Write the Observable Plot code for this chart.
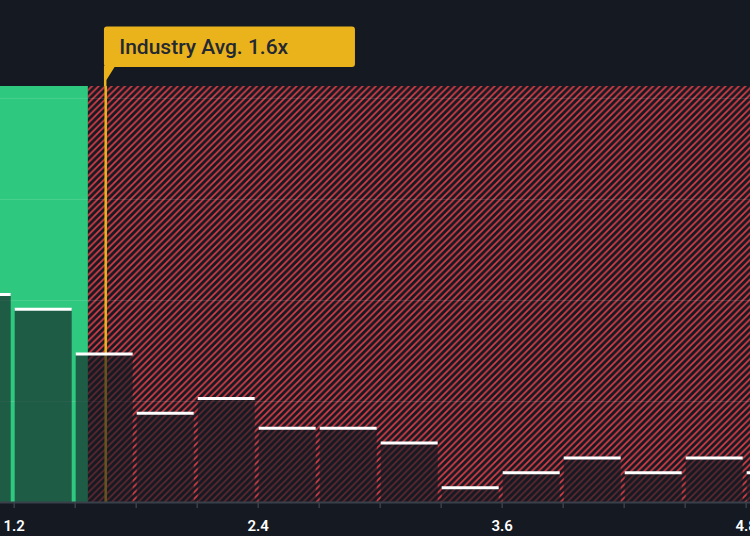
<!DOCTYPE html>
<html><head><meta charset="utf-8">
<script src="https://cdn.jsdelivr.net/npm/d3@7"></script>
<script src="https://cdn.jsdelivr.net/npm/@observablehq/plot@0.6"></script>
<style>
html,body{margin:0;padding:0;background:#151a22;}
#chart{width:750px;height:536px;overflow:hidden;}
svg{display:block;}
</style>
</head><body><div id="chart"></div>
<script>
// Data
const binStarts = [0.9, 1.2, 1.5, 1.8, 2.1, 2.4, 2.7, 3.0, 3.3, 3.6, 3.9, 4.2, 4.5, 4.8];
const binEnds   = [1.2, 1.5, 1.8, 2.1, 2.4, 2.7, 3.0, 3.3, 3.6, 3.9, 4.2, 4.5, 4.8, 5.1];
const counts    = [14, 13, 10, 6, 7, 5, 5, 4, 1, 2, 3, 2, 3, 2];
const tickValues  = [1.2, 1.5, 1.8, 2.1, 2.4, 2.7, 3.0, 3.3, 3.6, 3.9, 4.2, 4.5, 4.8];
const labelValues = [1.2, 2.4, 3.6, 4.8];
const gridValues  = [6.8, 13.6, 20.4, 27.2];
const industryAvg = 1.65;
const industryLabel = "Industry Avg. 1.6x";
const fairRatio = 1.565;
const xDomain = [1.1326, 4.8212];
const yMax = 28;

const bins = binStarts.map((s, i) => ({x1: s, x2: binEnds[i], count: counts[i]}));

const BG = "#151a22", GREEN = "#2ec97e", RED = "#dc3c46", GOLD = "#eab31c", AXIS = "#3a404a";

const chart = Plot.plot({
  width: 750,
  height: 536,
  marginTop: 86,
  marginBottom: 34,
  marginLeft: 0,
  marginRight: 0,
  style: {background: "transparent", fontFamily: "Roboto, sans-serif", overflow: "visible"},
  x: {domain: xDomain, axis: null},
  y: {domain: [0, yMax], axis: null},
  marks: [
    Plot.rect([0], {x1: xDomain[0], x2: fairRatio, y1: 0, y2: yMax, fill: GREEN}),
    Plot.rect([0], {x1: fairRatio, x2: xDomain[1], y1: 0, y2: yMax, fill: "url(#hatch)"}),
    Plot.ruleY(gridValues, {stroke: "#ffffff", strokeOpacity: 0.13, strokeWidth: 1}),
    Plot.ruleX([industryAvg], {y1: 0, y2: yMax, stroke: GOLD, strokeWidth: 2.5}),
    Plot.rectY(bins, {x1: "x1", x2: "x2", y: "count", fill: BG, fillOpacity: 0.62, insetLeft: 1, insetRight: 3, clip: true}),
    Plot.ruleY(bins, {x1: "x1", x2: "x2", y: "count", stroke: "#ffffff", strokeWidth: 3, insetLeft: 1, insetRight: 3, clip: true}),
    Plot.ruleY([0], {stroke: AXIS, strokeWidth: 2}),
    Plot.axisX(tickValues, {tickSize: 6, tickFormat: () => "", stroke: AXIS, strokeWidth: 1.5}),
    Plot.text(labelValues, {x: d => d, y: 0, dy: 24, text: d => d.toFixed(1), fill: "#ffffff", fontSize: 15, fontWeight: 600, lineAnchor: "middle"})
  ]
});

const svg = d3.select(chart);
svg.insert("defs", ":first-child").html(
  `<pattern id="hatch" patternUnits="userSpaceOnUse" width="6.6" height="6.6">
     <rect width="6.6" height="6.6" fill="${BG}"/>
     <path d="M-1.65,1.65 L1.65,-1.65 M0,6.6 L6.6,0 M4.95,8.25 L8.25,4.95" stroke="${RED}" stroke-width="1.7"/>
   </pattern>`
);

// Industry average label box, positioned from the x scale
const xs = chart.scale("x");
const lx = xs.apply(industryAvg);
const frameTop = 86;
const g = svg.append("g");
g.append("path")
  .attr("d", `M${lx - 1.25},66 L${lx + 10},66 L${lx + 1.25},80 L${lx + 1.25},${frameTop} L${lx - 1.25},${frameTop} Z`)
  .attr("fill", GOLD);
g.append("rect")
  .attr("x", lx - 1.25).attr("y", 26.5)
  .attr("width", 251).attr("height", 40.5)
  .attr("rx", 3).attr("fill", GOLD);
g.append("text")
  .attr("x", lx + 14).attr("y", 53.5)
  .attr("text-anchor", "start")
  .attr("fill", "#232833")
  .attr("font-family", "Roboto, sans-serif")
  .attr("font-size", 21)
  .attr("font-weight", 500)
  .text(industryLabel);

document.getElementById("chart").appendChild(chart);
</script>
</body></html>
